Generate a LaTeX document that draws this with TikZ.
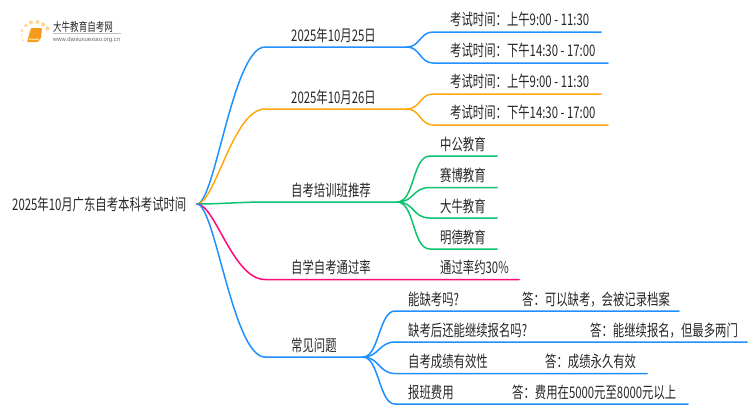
\documentclass[tikz,border=0pt]{standalone}
\usepackage{fontspec}
\setmainfont[FakeStretch=0.71]{Noto Sans CJK SC}
\newfontfamily\urlfont{Liberation Sans}
\definecolor{linkblue}{HTML}{1E90FF}
\definecolor{linkorange}{HTML}{FFA90F}
\definecolor{linkgreen}{HTML}{0CC36E}
\definecolor{linkpink}{HTML}{FF0A78}
\definecolor{bookorange}{HTML}{F59A1B}
\definecolor{dotorange}{HTML}{FFD68A}
\begin{document}
\begin{tikzpicture}[x=1pt,y=-1pt]
        \tikzset{every node/.style={inner sep=0pt,text=black!85}}
        \tikzset{label/.style={anchor=base west,font=\fontsize{16}{18}\selectfont}}
        \tikzset{link/.style={line width=1.5pt,line cap=round}}
        \useasboundingbox (0,0) rectangle (750,410);
        % logo
        \fill [dotorange] (23,40) circle (1);
        \fill [dotorange] (22,35) circle (1);
        \fill [dotorange] (22,30.5) circle (1.5);
        \fill [dotorange] (26,25.5) circle (1.8);
        \fill [dotorange] (31,22.5) circle (2);
        \fill [dotorange] (37.5,22) circle (2);
        \fill [dotorange] (43,24.5) circle (2);
        \fill [dotorange] (47.5,28.5) circle (2.2);
        \fill [bookorange,rounded corners=1pt] (31,28) -- (42,28) -- (41,38) -- (38,42) -- (27,42) -- cycle;
        \fill [dotorange] (29,38.5) -- (39.5,38.5) -- (38.5,40) -- (28.5,40) -- cycle;
        \node [anchor=base west,font=\fontsize{12}{13}\selectfont] (logotitle) at (53,31) {大牛教育自考网};
        \node [anchor=base west,font=\urlfont\fontsize{5.9}{7}\selectfont,text=black!60] (logourl) at (53,41) {www.daniuxuexiao.org.cn};
        \draw [black!25,line width=0.5pt] (53,33.5) -- (121,33.5);
        % root
        \node [label] (root) at (12,210) {2025年10月广东自考本科考试时间};
        \coordinate (hub) at (197,204);
        % first date
        \node [label] (d1) at (291,41) {2025年10月25日};
        \coordinate (d1a) at (265,47);
        \coordinate (d1b) at (407,47);
        \node [label] (d1x) at (450,25.5) {考试时间：上午9:00 - 11:30};
        \coordinate (d1xa) at (433,32);
        \coordinate (d1xb) at (601,32);
        \node [label] (d1y) at (450,56.5) {考试时间：下午14:30 - 17:00};
        \coordinate (d1ya) at (433,63);
        \coordinate (d1yb) at (608,63);
        \draw [link,linkblue] (hub) .. controls +(18,0) and +(-32,0) .. (d1a) -- (d1b);
        \draw [link,linkblue] (d1b) .. controls +(13,0) and +(-13,0) .. (d1xa) -- (d1xb);
        \draw [link,linkblue] (d1b) .. controls +(13,0) and +(-13,0) .. (d1ya) -- (d1yb);
        % second date
        \node [label] (d2) at (291,103) {2025年10月26日};
        \coordinate (d2a) at (265,109);
        \coordinate (d2b) at (407,109);
        \node [label] (d2x) at (450,87.5) {考试时间：上午9:00 - 11:30};
        \coordinate (d2xa) at (433,94);
        \coordinate (d2xb) at (601,94);
        \node [label] (d2y) at (450,118.5) {考试时间：下午14:30 - 17:00};
        \coordinate (d2ya) at (433,125);
        \coordinate (d2yb) at (608,125);
        \draw [link,linkorange] (hub) .. controls +(18,0) and +(-32,0) .. (d2a) -- (d2b);
        \draw [link,linkorange] (d2b) .. controls +(13,0) and +(-13,0) .. (d2xa) -- (d2xb);
        \draw [link,linkorange] (d2b) .. controls +(13,0) and +(-13,0) .. (d2ya) -- (d2yb);
        % training
        \node [label] (tr) at (291,196) {自考培训班推荐};
        \coordinate (tra) at (265,202);
        \coordinate (trb) at (397,202);
        \node [label] (tr1) at (440,150) {中公教育};
        \coordinate (tr1a) at (430,156);
        \coordinate (tr1b) at (497,156);
        \node [label] (tr2) at (440,181) {赛博教育};
        \coordinate (tr2a) at (430,187.5);
        \coordinate (tr2b) at (497,187.5);
        \node [label] (tr3) at (440,212) {大牛教育};
        \coordinate (tr3a) at (430,218);
        \coordinate (tr3b) at (497,218);
        \node [label] (tr4) at (440,243) {明德教育};
        \coordinate (tr4a) at (430,249);
        \coordinate (tr4b) at (497,249);
        \draw [link,linkgreen] (hub) .. controls +(25,0) and +(-25,0) .. (tra) -- (trb);
        \draw [link,linkgreen] (trb) .. controls +(18,0) and +(-18,0) .. (tr1a) -- (tr1b);
        \draw [link,linkgreen] (trb) .. controls +(18,0) and +(-18,0) .. (tr2a) -- (tr2b);
        \draw [link,linkgreen] (trb) .. controls +(18,0) and +(-18,0) .. (tr3a) -- (tr3b);
        \draw [link,linkgreen] (trb) .. controls +(18,0) and +(-18,0) .. (tr4a) -- (tr4b);
        % pass rate
        \node [label] (pr) at (291,273) {自学自考通过率};
        \node [label] (prv) at (440,273) {通过率约30\%};
        \coordinate (pra) at (265,279.5);
        \coordinate (prb) at (519,279.5);
        \draw [link,linkpink] (hub) .. controls +(18,0) and +(-32,0) .. (pra) -- (prb);
        % questions
        \node [label] (qa) at (291,351) {常见问题};
        \coordinate (qaa) at (265,357);
        \coordinate (qab) at (363,357);
        \node [label] (q1) at (408,305) {能缺考吗?};
        \node [label] (a1) at (522,305) {答：可以缺考，会被记录档案};
        \coordinate (q1a) at (395,311);
        \coordinate (q1b) at (679,311);
        \node [label] (q2) at (408,336) {缺考后还能继续报名吗?};
        \node [label] (a2) at (590,336) {答：能继续报名，但最多两门};
        \coordinate (q2a) at (395,342);
        \coordinate (q2b) at (747,342);
        \node [label] (q3) at (408,367) {自考成绩有效性};
        \node [label] (a3) at (545,367) {答：成绩永久有效};
        \coordinate (q3a) at (395,373.5);
        \coordinate (q3b) at (647,373.5);
        \node [label] (q4) at (408,398) {报班费用};
        \node [label] (a4) at (512,398) {答：费用在5000元至8000元以上};
        \coordinate (q4a) at (395,404);
        \coordinate (q4b) at (688,404);
        \draw [link,linkblue] (hub) .. controls +(18,0) and +(-32,0) .. (qaa) -- (qab);
        \draw [link,linkblue] (qab) .. controls +(16,0) and +(-16,0) .. (q1a) -- (q1b);
        \draw [link,linkblue] (qab) .. controls +(16,0) and +(-16,0) .. (q2a) -- (q2b);
        \draw [link,linkblue] (qab) .. controls +(16,0) and +(-16,0) .. (q3a) -- (q3b);
        \draw [link,linkblue] (qab) .. controls +(16,0) and +(-16,0) .. (q4a) -- (q4b);
    \end{tikzpicture}
\end{document}
